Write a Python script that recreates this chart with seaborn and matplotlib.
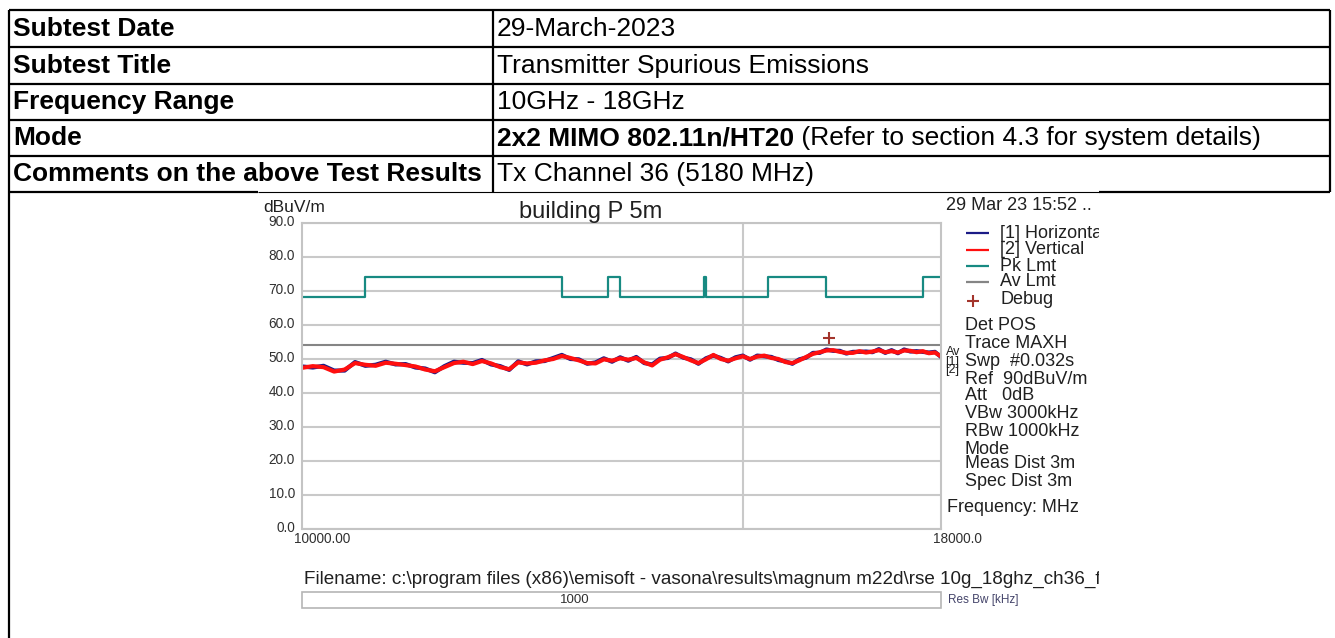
import matplotlib
matplotlib.use("Agg")
import matplotlib.pyplot as plt
import seaborn as sns
import pandas as pd
from matplotlib.lines import Line2D
from matplotlib.patches import Rectangle
from matplotlib.ticker import NullLocator
from matplotlib.transforms import ScaledTranslation, Bbox, TransformedBbox

# ---------------- data ----------------
TABLE_LABELS = ["Subtest Date", "Subtest Title", "Frequency Range", "Mode",
                "Comments on the above Test Results"]
TABLE_VALUES = ["29-March-2023", "Transmitter Spurious Emissions", "10GHz - 18GHz",
                "2x2 MIMO 802.11n/HT20", "Tx Channel 36 (5180 MHz)"]
MODE_SUFFIX = " (Refer to section 4.3 for system details)"

FREQ_MHZ = [10000, 10100, 10200, 10300, 10400, 10500, 10600, 10700, 10800, 10900,
            11000, 11100, 11200, 11300, 11400, 11500, 11600, 11700, 11800, 11900,
            12000, 12100, 12200, 12300, 12400, 12500, 12600, 12700, 12800, 12900,
            13000, 13100, 13200, 13300, 13400, 13500, 13600, 13700, 13800, 13900,
            14000, 14100, 14200, 14300, 14400, 14500, 14600, 14700, 14800, 14900,
            15000, 15100, 15200, 15300, 15400, 15500, 15600, 15700, 15800, 15900,
            16000, 16100, 16200, 16300, 16400, 16500, 16600, 16700, 16800, 16900,
            17000, 17100, 17200, 17300, 17400, 17500, 17600, 17700, 17800, 17900,
            18000]
VERTICAL = [47.4, 47.9, 47.6, 46.3, 46.9, 48.8, 48.3, 48.0, 48.9, 48.6,
            48.2, 47.8, 46.9, 46.4, 47.6, 48.8, 49.2, 48.5, 49.4, 48.7,
            47.6, 47.0, 49.0, 48.7, 48.9, 49.6, 50.0, 50.9, 50.3, 49.6,
            48.8, 48.7, 49.9, 49.5, 50.2, 49.8, 50.3, 49.0, 48.1, 49.8,
            50.5, 51.4, 50.6, 49.6, 48.8, 49.9, 51.2, 50.0, 49.5, 50.2,
            50.8, 50.0, 50.7, 51.0, 50.3, 50.0, 49.1, 48.8, 49.6, 50.6,
            51.5, 52.0, 52.5, 52.6, 52.1, 51.8, 51.8, 52.3, 51.9, 52.2,
            52.6, 52.0, 52.3, 51.9, 52.5, 52.4, 52.0, 52.3, 51.7, 51.9,
            50.8]
HORIZONTAL = [47.8, 47.5, 48.0, 46.6, 46.6, 49.1, 48.0, 48.3, 49.2, 48.4,
              48.5, 47.5, 47.2, 46.1, 47.9, 49.2, 48.9, 48.8, 49.7, 48.4,
              47.9, 46.8, 49.3, 48.4, 49.3, 49.4, 50.3, 51.2, 50.0, 49.9,
              48.6, 49.0, 50.2, 49.2, 50.5, 49.5, 50.6, 48.8, 48.4, 50.1,
              50.3, 51.6, 50.4, 49.9, 48.6, 50.2, 51.0, 50.3, 49.3, 50.5,
              51.0, 49.8, 51.0, 50.8, 50.6, 49.7, 49.3, 48.6, 49.9, 50.4,
              51.8, 51.8, 52.8, 52.4, 52.4, 51.6, 52.1, 52.1, 52.2, 52.0,
              52.9, 51.8, 52.6, 51.7, 52.8, 52.2, 52.3, 52.1, 51.9, 52.1,
              50.6]
PK_EDGES_MHZ = [10000, 10600, 12700, 13250, 13400, 14470, 14500, 15350, 16200, 17700, 18000]
PK_LEVELS = [68.2, 74.0, 68.2, 74.0, 68.2, 74.0, 68.2, 74.0, 68.2, 74.0, 74.0]
AV_FREQ_MHZ = [10000, 18000]
AV_LEVELS = [54.0, 54.0]
DEBUG_FREQ_MHZ = [16240]
DEBUG_LEVEL = [56.2]
Y_TICKS = [0, 10, 20, 30, 40, 50, 60, 70, 80, 90]
X_TICKS = [10000, 18000]
X_TICK_LABELS = ["10000.00", "18000.0"]
LEGEND_LABELS = ["[1] Horizontal", "[2] Vertical", "Pk Lmt", "Av Lmt", "Debug"]
INFO_LINES = ["Det POS", "Trace MAXH", "Swp  #0.032s", "Ref  90dBuV/m", "Att   0dB",
              "VBw 3000kHz", "RBw 1000kHz", "Mode", "Meas Dist 3m", "Spec Dist 3m"]

# ---------------- style ----------------
sns.set_theme(style="white")
plt.rcParams["font.family"] = ["Liberation Sans", "DejaVu Sans"]

W, H = 1335, 638
fig = plt.figure(figsize=(W / 100, H / 100), dpi=100)
fig.patch.set_facecolor("white")


def fx(x):
    return x / W


def fy(y):
    return 1 - y / H


def hline(x0, x1, y, lw=1.6, color="black"):
    fig.add_artist(Line2D([fx(x0), fx(x1)], [fy(y), fy(y)], transform=fig.transFigure,
                          color=color, lw=lw, solid_capstyle="butt"))


def vline(x, y0, y1, lw=1.6, color="black"):
    fig.add_artist(Line2D([fx(x), fx(x)], [fy(y0), fy(y1)], transform=fig.transFigure,
                          color=color, lw=lw, solid_capstyle="butt"))


# ---------------- table ----------------
row_lines = [10, 47, 84, 120, 156]
for y in row_lines:
    hline(9, 1330, y)
hline(9, 258, 192)
hline(258, 1099, 192, lw=0.8)
hline(1099, 1330, 192)
vline(9, 10, 638)
vline(493, 10, 192)
vline(1330, 10, 192)

row_centers = [29, 66, 102, 138, 174]
TFS = 19
for i, (lab, val) in enumerate(zip(TABLE_LABELS, TABLE_VALUES)):
    fig.text(fx(13), fy(row_centers[i]), lab, fontsize=TFS, fontweight="bold",
             ha="left", va="center", color="black")
    w = "bold" if lab == "Mode" else "normal"
    t = fig.text(fx(497), fy(row_centers[i]), val, fontsize=TFS, fontweight=w,
                 ha="left", va="center", color="black")
    if lab == "Mode":
        r = fig.canvas.get_renderer()
        bb = t.get_window_extent(renderer=r)
        fig.text(bb.x1 / W, fy(row_centers[i]), MODE_SUFFIX, fontsize=TFS,
                 ha="left", va="center", color="black")

# ---------------- chart ----------------
ax = fig.add_axes([fx(302), fy(529), 639 / W, 306 / H])
ax.set_facecolor("white")

traces = pd.DataFrame({
    "freq": FREQ_MHZ * 2,
    "level": HORIZONTAL + VERTICAL,
    "trace": ["[1] Horizontal"] * len(FREQ_MHZ) + ["[2] Vertical"] * len(FREQ_MHZ),
})
C_BLUE, C_RED, C_TEAL, C_GRAY, C_DBG = "#1b1b86", "#ff0f0f", "#178a82", "#858585", "#a3342c"

sns.lineplot(x=PK_EDGES_MHZ, y=PK_LEVELS, drawstyle="steps-post", estimator=None,
             color=C_TEAL, lw=1.6, ax=ax)
sns.lineplot(x=AV_FREQ_MHZ, y=AV_LEVELS, estimator=None, color=C_GRAY, lw=1.5, ax=ax)
sns.lineplot(data=traces, x="freq", y="level", hue="trace", estimator=None,
             palette={"[1] Horizontal": C_BLUE, "[2] Vertical": C_RED},
             lw=3.0, legend=False, ax=ax)
sns.scatterplot(x=DEBUG_FREQ_MHZ, y=DEBUG_LEVEL, marker="+", s=70, color=C_DBG,
                linewidth=1.5, ax=ax, zorder=5)

ax.set_xscale("log")
ax.set_xlim(10000, 18000)
ax.set_ylim(0, 90)
ax.xaxis.set_minor_locator(NullLocator())
ax.set_xticks(X_TICKS)
ax.set_xticklabels(X_TICK_LABELS)
ax.xaxis.set_minor_locator(NullLocator())
ax.set_yticks(Y_TICKS)
ax.set_yticklabels([f"{v:.1f}" for v in Y_TICKS])
ax.set_xlabel("")
ax.set_ylabel("")
ax.tick_params(axis="both", length=0, labelsize=9.8, labelcolor="#303030")
ax.tick_params(axis="y", pad=5)
ax.tick_params(axis="x", pad=2)
ax.grid(axis="y", color="#c9c9c9", lw=1.5)
ax.axvline(15000, color="#c9c9c9", lw=1.5, zorder=0.5)
for s in ax.spines.values():
    s.set_visible(True)
    s.set_color("#c4c4c4")
    s.set_linewidth(1.5)

for lab in ax.get_yticklabels():
    lab.set_transform(lab.get_transform() + ScaledTranslation(0, 3 / 100, fig.dpi_scale_trans))
xl = ax.get_xticklabels()
xl[0].set_transform(xl[0].get_transform() + ScaledTranslation(20 / 100, 0, fig.dpi_scale_trans))
xl[1].set_transform(xl[1].get_transform() + ScaledTranslation(16 / 100, 0, fig.dpi_scale_trans))

# chart texts
TXT = "#202020"
clip = TransformedBbox(Bbox([[0, 0], [1099 / W, 1]]), fig.transFigure)
fig.text(fx(263), fy(207), "dBuV/m", fontsize=12.5, ha="left", va="center", color=TXT)
fig.text(fx(591), fy(212), "building P 5m", fontsize=17, ha="center", va="center", color=TXT)
fig.text(fx(946), fy(205), "29 Mar 23 15:52 ..", fontsize=13, ha="left", va="center", color=TXT)

leg_y = [233, 250, 266, 282, 299]
leg_colors = [C_BLUE, C_RED, C_TEAL, C_GRAY]
for i, lab in enumerate(LEGEND_LABELS):
    if i < 4:
        hline(966, 989, leg_y[i], lw=1.6, color=leg_colors[i])
    else:
        fig.add_artist(Line2D([fx(973)], [fy(leg_y[i] + 2)], transform=fig.transFigure,
                              marker="+", markersize=8, mew=1.5, color=C_DBG, lw=0))
    t = fig.text(fx(1000), fy(leg_y[i]), lab, fontsize=13, ha="left", va="center",
                 color=TXT, clip_on=True)
    t.set_clip_box(clip)

info_y = [326, 343, 362, 379, 395, 413, 432, 449, 464, 481]
for yy, s in zip(info_y, INFO_LINES):
    fig.text(fx(965), fy(yy), s, fontsize=13, ha="left", va="center", color=TXT)
fig.text(fx(947), fy(507), "Frequency: MHz", fontsize=13, ha="left", va="center", color=TXT)
fig.text(fx(946), fy(352), "Av", fontsize=9, ha="left", va="center", color=TXT)
fig.text(fx(945), fy(366), "[1]\n[2]", fontsize=9, ha="left", va="center", color=TXT,
         linespacing=0.6)

t = fig.text(fx(304), fy(579),
             "Filename: c:\\program files (x86)\\emisoft - vasona\\results\\magnum m22d\\rse 10g_18ghz_ch36_final",
             fontsize=13.55, ha="left", va="center", color=TXT, clip_on=True)
t.set_clip_box(clip)
fig.add_artist(Rectangle((fx(302), fy(608)), 639 / W, 16 / H, transform=fig.transFigure,
                         facecolor="white", edgecolor="#b5b5b5", lw=1.2))
fig.text(fx(575), fy(600), "1000", fontsize=9.5, ha="center", va="center", color="#303030")
fig.text(fx(948), fy(600), "Res Bw [kHz]", fontsize=8.5, ha="left", va="center", color="#44446a")

fig.savefig("out.png", dpi=100, facecolor="white")
